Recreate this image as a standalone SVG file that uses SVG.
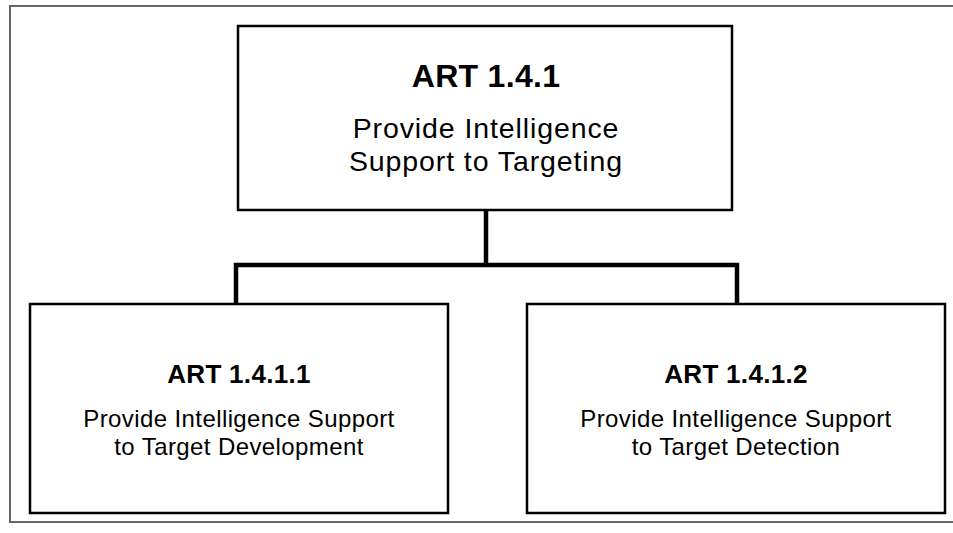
<svg xmlns="http://www.w3.org/2000/svg" width="953" height="533" viewBox="0 0 953 533">
<style>
.frame{fill:none;stroke:#666;stroke-width:2}
.box{fill:#fff;stroke:#000;stroke-width:2.5}
.conn{fill:none;stroke:#000;stroke-width:4.5;stroke-linejoin:miter;stroke-linecap:butt}
text{font-family:"Liberation Sans",Arial,Helvetica,sans-serif;fill:#000;text-anchor:middle}
.t1{font-size:32px;font-weight:bold;letter-spacing:0.3px}
.s1{font-size:28.5px;letter-spacing:0.9px}
.t2{font-size:26px;font-weight:bold;letter-spacing:0.3px}
.s2{font-size:24px;letter-spacing:0.4px}
</style>
<rect width="953" height="533" fill="#fff"/>
<path class="frame" d="M955,6 H10 V522 H955"/>
<g id="connectors">
<path class="conn" d="M486,211 V265"/>
<path class="conn" d="M236,304 V265 H737 V304"/>
</g>
<g id="node-art141">
<rect class="box" x="238" y="26" width="494" height="184"/>
<text class="t1" x="486" y="87">ART 1.4.1</text>
<text class="s1" x="486" y="138">Provide Intelligence</text>
<text class="s1" x="486" y="171">Support to Targeting</text>
</g>
<g id="node-art1411">
<rect class="box" x="30" y="304" width="418" height="209"/>
<text class="t2" x="239" y="383">ART 1.4.1.1</text>
<text class="s2" x="239" y="427">Provide Intelligence Support</text>
<text class="s2" x="239" y="455">to Target Development</text>
</g>
<g id="node-art1412">
<rect class="box" x="527" y="304" width="418" height="209"/>
<text class="t2" x="736" y="383">ART 1.4.1.2</text>
<text class="s2" x="736" y="427">Provide Intelligence Support</text>
<text class="s2" x="736" y="455">to Target Detection</text>
</g>
</svg>
